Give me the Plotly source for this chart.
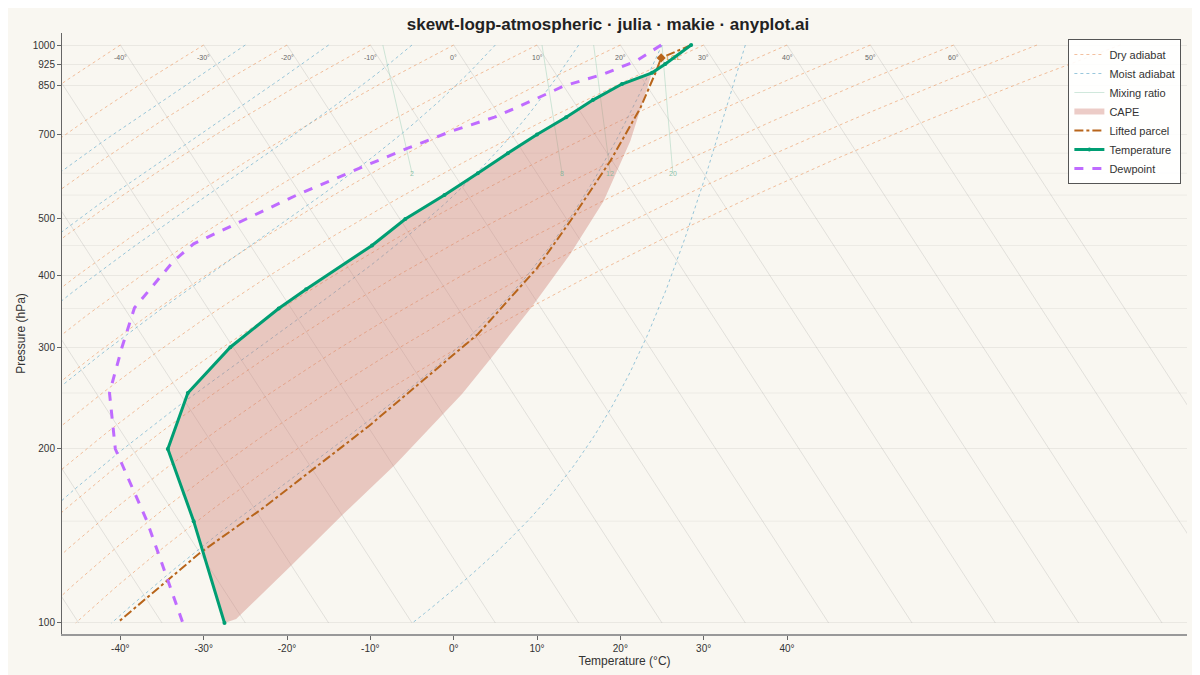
import numpy as np
import plotly.graph_objects as go

# Sounding (x in skewed plot coordinates)
temp_p = [1000, 927, 895, 856, 803, 750, 700, 650, 600, 550, 500, 450, 378, 350, 300, 250, 200, 150, 100]
temp_x = [28.5, 25.4, 23.8, 20.2, 16.7, 13.5, 10.0, 6.5, 2.9, -1.1, -5.8, -9.8, -17.7, -21.0, -26.8, -31.9, -34.3, -31.2, -27.5]

dew_p = [1000, 938, 891, 849, 800, 750, 710, 663, 618, 552, 500, 453, 423, 351, 300, 250, 200, 150, 100]
dew_x = [24.9, 21.9, 18.0, 13.2, 9.3, 4.9, -0.2, -5.5, -10.6, -18.6, -24.9, -31.2, -33.6, -38.3, -39.8, -41.3, -40.6, -36.8, -32.5]

parcel_p = [1000, 950, 901, 778, 630, 496, 411, 316, 219, 158, 132, 100.8]
parcel_x = [28.5, 24.9, 24.3, 22.4, 18.8, 14.0, 10.0, 2.9, -10.2, -22.9, -30.5, -40.1]

cape_edge_p = [895, 682, 537, 435, 351, 307, 249, 188, 154, 126.5, 101.6, 100]
cape_edge_x = [23.8, 21.2, 18.0, 14.0, 9.3, 6.1, 1.0, -7.0, -13.3, -19.3, -26.1, -27.5]

lcl_p, lcl_x = 950, 24.9

mix_ratios = ['2', '8', '12', '20']
mix_x_top = [-8.5, 10.6, 16.8, 25.0]
mix_x_600 = [-5.0, 13.0, 18.8, 26.3]

iso_temps = list(range(-100, 70, 10))
dry_temps = list(range(-100, 90, 10))
moist_temps = [-25, -15, -5, 5, 15, 25, 35]
top_labels = list(range(-40, 70, 10))
x_ticks = list(range(-40, 50, 10))
y_ticks = [1000, 925, 850, 700, 500, 400, 300, 200, 100]

SKEW = 45
BG = '#F9F7F1'
levels = np.logspace(3, 2, 120)


def skew(t, p):
    return t + SKEW * np.log10(1000.0 / p)


def ly(p):
    # pressure -> vertical position (log, 1000 hPa at top)
    return -np.log10(np.asarray(p, dtype=float))


lv = ly(levels)


def moist_profile(t0):
    # pseudo-adiabat by simple integration
    rd, cp, lh, eps = 287.0, 1005.0, 2.5e6, 0.622
    t = t0 + 273.15
    out = [t]
    for i in range(1, len(levels)):
        p0, p1 = levels[i - 1], levels[i]
        tc = t - 273.15
        es = 6.112 * np.exp(17.67 * tc / (tc + 243.5))
        rs = eps * es / (p0 - es)
        dtdp = (rd * t + lh * rs) / (cp + lh * lh * rs * eps / (rd * t * t)) / p0
        t = t + dtdp * (p1 - p0)
        out.append(t)
    return np.array(out) - 273.15


fig = go.Figure()

# isotherms
for t in iso_temps:
    fig.add_trace(go.Scatter(x=skew(t, levels), y=lv, mode='lines',
                             line=dict(color='rgba(120,120,120,0.18)', width=1),
                             showlegend=False, hoverinfo='skip'))

# dry adiabats
for i, t in enumerate(dry_temps):
    tp = (t + 273.15) * (levels / 1000.0) ** 0.286 - 273.15
    fig.add_trace(go.Scatter(x=skew(tp, levels), y=lv, mode='lines', name='Dry adiabat',
                             legendgroup='dry', showlegend=(i == 0), legendrank=1,
                             line=dict(color='rgba(235,150,95,0.6)', width=1, dash='dot'),
                             hoverinfo='skip'))

# moist adiabats
for i, t in enumerate(moist_temps):
    fig.add_trace(go.Scatter(x=skew(moist_profile(t), levels), y=lv, mode='lines',
                             name='Moist adiabat', legendgroup='moist', showlegend=(i == 0), legendrank=2,
                             line=dict(color='rgba(110,175,205,0.7)', width=1, dash='dot'),
                             hoverinfo='skip'))

# mixing ratio lines
for i, w in enumerate(mix_ratios):
    fig.add_trace(go.Scatter(x=[mix_x_top[i], mix_x_600[i]], y=ly([1000, 600]), mode='lines',
                             name='Mixing ratio', legendgroup='mix', showlegend=(i == 0), legendrank=3,
                             line=dict(color='rgba(150,205,180,0.45)', width=1),
                             hoverinfo='skip'))
    fig.add_annotation(x=mix_x_600[i], y=ly(600), text=w, showarrow=False,
                       font=dict(size=7, color='rgba(110,180,150,0.8)'))

for t in top_labels:
    fig.add_annotation(x=t, y=ly(953), text=f'{t}°', showarrow=False,
                       font=dict(size=7, color='#666'))

# CAPE
cape_x = cape_edge_x + [x for p, x in zip(temp_p[::-1], temp_x[::-1]) if p <= 895]
cape_p = cape_edge_p + [p for p in temp_p[::-1] if p <= 895]
fig.add_trace(go.Scatter(x=cape_x, y=ly(cape_p), fill='toself', mode='none', name='CAPE',
                         fillcolor='rgba(205,120,110,0.38)', legendrank=4, hoverinfo='skip'))

fig.add_trace(go.Scatter(x=parcel_x, y=ly(parcel_p), mode='lines', name='Lifted parcel', legendrank=5,
                         line=dict(color='#B8651B', width=2, dash='dashdot')))
fig.add_trace(go.Scatter(x=[lcl_x], y=ly([lcl_p]), mode='markers+text', text=['LCL'],
                         textposition='middle right',
                         textfont=dict(size=8, color='#C8913A'), showlegend=False,
                         marker=dict(symbol='diamond', size=7, color='#B8651B')))

fig.add_trace(go.Scatter(x=temp_x, y=ly(temp_p), mode='lines+markers', name='Temperature', legendrank=6,
                         line=dict(color='#009E73', width=3), marker=dict(size=4, color='#009E73')))
fig.add_trace(go.Scatter(x=dew_x, y=ly(dew_p), mode='lines', name='Dewpoint', legendrank=7,
                         line=dict(color='#BF6BFF', width=3, dash='dash')))

for p in [650, 600, 550, 450, 350, 250, 150]:
    fig.add_shape(type='line', xref='paper', x0=0, x1=1, y0=ly(p), y1=ly(p),
                  line=dict(color='rgba(0,0,0,0.05)', width=1), layer='below')

fig.update_layout(
    title=dict(text='<b>skewt-logp-atmospheric · julia · makie · anyplot.ai</b>', x=0.5, y=0.985,
               xanchor='center', font=dict(size=17, color='#222')),
    width=1200, height=675,
    paper_bgcolor=BG, plot_bgcolor=BG,
    font=dict(family='Liberation Sans, Arial, sans-serif', color='#333'),
    margin=dict(l=40, r=21, t=25, b=49),
    legend=dict(x=0.995, y=0.99, xanchor='right', yanchor='top', bgcolor='rgba(255,255,255,0.9)',
                bordercolor='#555', borderwidth=1, font=dict(size=11), tracegroupgap=0,
                itemwidth=30),
    showlegend=True,
)
fig.update_xaxes(range=[-47, 88], tickvals=x_ticks, ticktext=[f'{t}°' for t in x_ticks],
                 showgrid=False, zeroline=False, showline=True, linecolor='#999', linewidth=2,
                 ticks='outside', ticklen=4, tickcolor='#666', tickfont=dict(size=10),
                 title=dict(text='Temperature (°C)', font=dict(size=12), standoff=4))
fig.update_yaxes(range=[float(ly(95.7)), float(ly(1049))], tickvals=list(ly(y_ticks)),
                 ticktext=[str(v) for v in y_ticks], showgrid=True, gridcolor='rgba(0,0,0,0.06)',
                 zeroline=False, showline=True, linecolor='#666', linewidth=1,
                 ticks='outside', ticklen=4, tickcolor='#666', tickfont=dict(size=10),
                 title=dict(text='Pressure (hPa)', font=dict(size=12), standoff=4))

fig.write_html('out.html')
